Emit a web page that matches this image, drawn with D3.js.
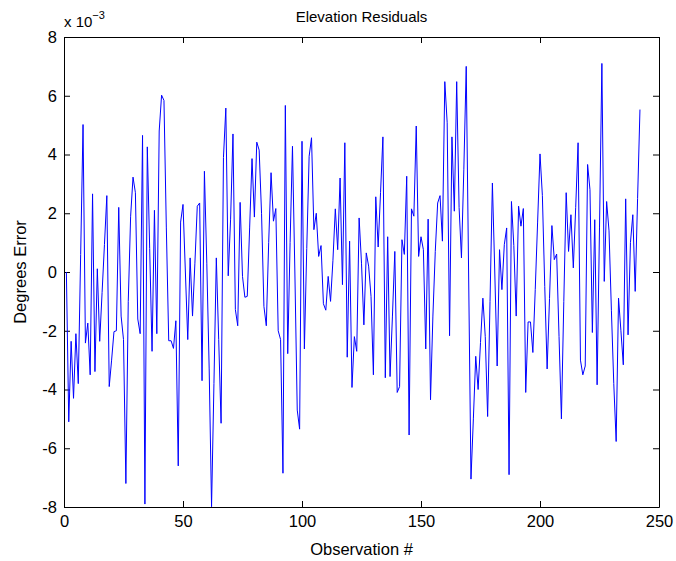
<!DOCTYPE html>
<html><head><meta charset="utf-8">
<script src="https://cdn.jsdelivr.net/npm/d3@7/dist/d3.min.js"></script>
<style>body{margin:0;background:#fff} text{font-family:"Liberation Sans",Arial,Helvetica,sans-serif;fill:#000}</style>
</head><body><svg id="c" width="676" height="561"></svg>
<script>
// Residuals in units of 1e-3 degrees, observations 1..242
const residuals = [
 0.0,-5.1,-2.36,-4.3,-2.1,-3.8,0.6,5.02,-2.42,-1.74,
 -3.5,2.66,-3.39,0.11,-2.36,-0.7,0.94,2.6,-3.9,-3.0,
 -2.03,-2.0,2.2,-1.5,-2.3,-7.2,-1.0,1.9,3.23,2.7,
 -1.6,-2.1,4.65,-7.9,4.26,0.8,-2.7,2.1,-2.1,4.8,
 6.02,5.84,1.5,-2.34,-2.34,-2.6,-1.66,-6.6,1.7,2.3,
 0.0,-2.3,0.48,-1.5,0.3,2.24,2.35,-3.7,3.43,0.3,
 -3.3,-7.99,-3.8,0.48,-2.3,-5.15,3.9,5.58,-0.13,1.8,
 4.7,-1.28,-1.83,2.37,-0.15,-0.86,-0.83,1.5,3.86,1.87,
 4.42,4.15,2.0,-1.17,-1.83,1.0,3.38,1.73,2.16,-2.0,
 -2.3,-6.85,5.67,-2.78,1.0,4.28,0.0,-4.7,-5.35,4.45,
 -2.62,0.8,3.94,4.57,1.44,2.0,0.53,0.9,-1.08,-1.3,
 -0.15,-1.0,0.4,2.15,0.76,3.2,-0.43,4.4,-2.9,1.05,
 -3.93,-2.2,-2.7,1.84,0.3,-1.8,0.65,0.2,-0.83,-3.5,
 2.56,0.85,2.7,4.6,-3.6,1.2,-3.56,-1.5,0.7,-4.1,
 -3.9,1.1,0.6,3.26,-5.55,2.15,1.9,4.97,0.53,1.2,
 0.76,-2.62,1.8,-4.35,-1.5,0.7,2.35,2.6,1.05,6.48,
 5.08,-2.17,4.6,2.07,6.48,2.2,0.48,3.5,7.0,0.0,
 -7.05,-5.0,-2.87,-4.0,-2.4,-0.89,-2.2,-4.92,-1.0,3.03,
 0.0,-3.2,0.76,-0.6,0.93,1.5,-6.9,2.4,0.9,-1.5,
 2.24,1.56,2.16,-4.1,-1.7,-1.7,-2.74,-0.6,1.7,4.02,
 2.6,-0.5,-3.3,-0.9,1.58,0.42,0.61,-2.2,-5.0,-1.0,
 2.7,0.7,1.95,0.14,2.2,4.4,-3.0,-3.5,-3.2,3.66,
 2.8,-2.06,1.78,-3.84,1.5,7.1,-0.32,2.4,1.4,-1.3,
 -3.8,-5.77,-0.89,-2.0,-3.16,2.49,-2.14,1.0,1.95,-0.66,
 2.5,5.53
];
const observations = residuals.map((d, i) => i + 1);
const xTicks = [0, 50, 100, 150, 200, 250];
const yTicks = [-8, -6, -4, -2, 0, 2, 4, 6, 8];
const titleText = "Elevation Residuals";
const xLabel = "Observation #";
const yLabel = "Degrees Error";

const svg = d3.select("#c");
const L = 64, R = 659, T = 37, B = 507;
const x = d3.scaleLinear().domain([0, 250]).range([L, R]);
const y = d3.scaleLinear().domain([-8, 8]).range([B, T]);
const fs = 16.5;

function styleAxis(g) {
  g.selectAll("path.domain").attr("stroke", "#000").attr("stroke-width", 1);
  g.selectAll(".tick line").attr("stroke", "#000").attr("stroke-width", 1);
  g.selectAll("text").attr("font-size", fs).attr("font-family", '"Liberation Sans",Arial,sans-serif').attr("fill", "#000");
}

svg.append("g").attr("transform", `translate(0,${B})`)
  .call(d3.axisBottom(x).tickValues(xTicks).tickSize(-6).tickSizeOuter(0).tickPadding(8).tickFormat(d => String(d)))
  .call(styleAxis);
svg.append("g").attr("transform", `translate(0,${T})`)
  .call(d3.axisTop(x).tickValues(xTicks).tickSize(-6).tickSizeOuter(0).tickFormat(""))
  .call(styleAxis);
svg.append("g").attr("transform", `translate(${L},0)`)
  .call(d3.axisLeft(y).tickValues(yTicks).tickSize(-6).tickSizeOuter(0).tickPadding(7).tickFormat(d => String(d)))
  .call(styleAxis);
svg.append("g").attr("transform", `translate(${R},0)`)
  .call(d3.axisRight(y).tickValues(yTicks).tickSize(-6).tickSizeOuter(0).tickFormat(""))
  .call(styleAxis);

svg.append("path").datum(residuals)
  .attr("fill", "none").attr("stroke", "#0000ff").attr("stroke-width", 1)
  .attr("d", d3.line().x((d, i) => x(observations[i])).y(d => y(d)));

svg.append("text").attr("x", (L + R) / 2).attr("y", 22).attr("text-anchor", "middle")
  .attr("font-size", 15).text(titleText);
svg.append("text").attr("x", (L + R) / 2).attr("y", 555).attr("text-anchor", "middle")
  .attr("font-size", fs).text(xLabel);
svg.append("text").attr("transform", `translate(26,${(T + B) / 2}) rotate(-90)`).attr("text-anchor", "middle")
  .attr("font-size", fs).text(yLabel);
const ex = svg.append("text").attr("x", L).attr("y", 27).attr("font-size", 15);
ex.append("tspan").text("x 10");
ex.append("tspan").attr("dy", -8).attr("font-size", 11).text("\u22123");
</script></body></html>
